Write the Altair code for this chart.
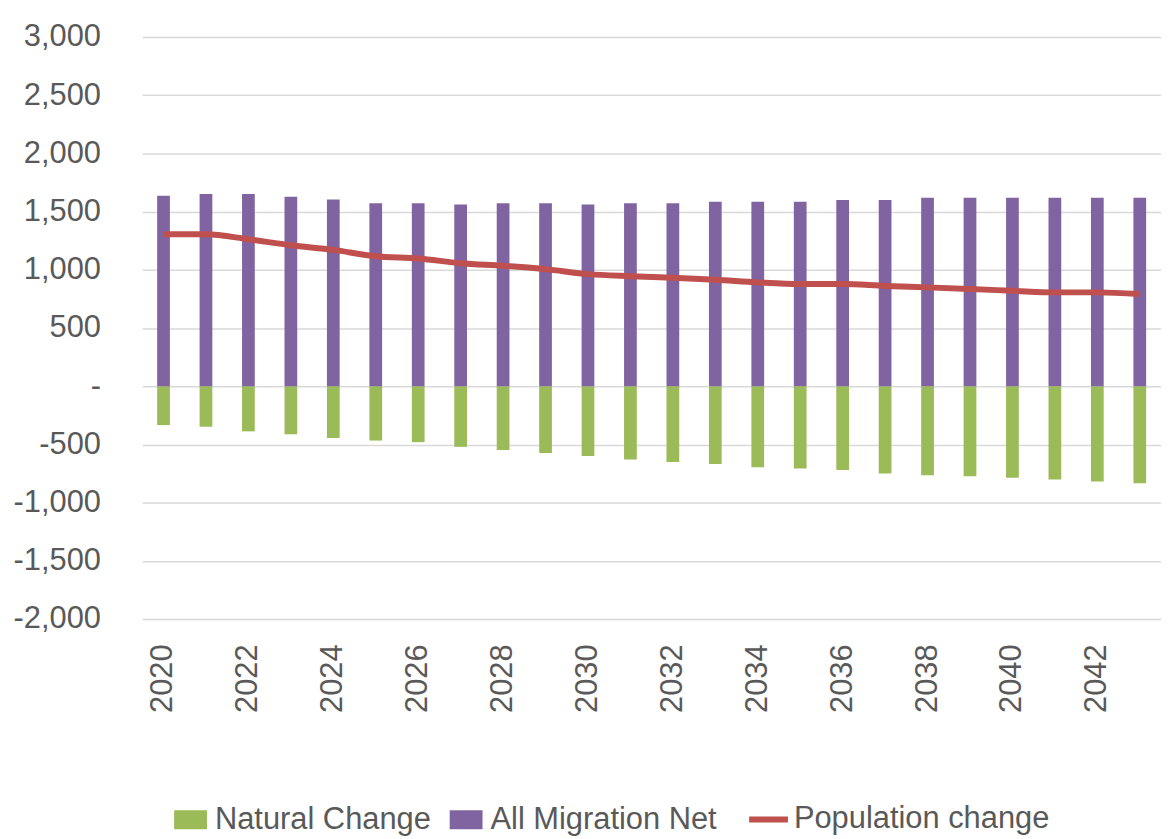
import altair as alt
import pandas as pd

years = list(range(2020, 2044))
natural_change = [-334, -348, -388, -413, -445, -467, -481, -521, -549, -575, -600, -630,
                  -651, -668, -697, -708, -719, -751, -765, -773, -787, -802, -819, -833]
migration_net = [1637, 1651, 1651, 1627, 1603, 1571, 1571, 1560, 1571, 1571, 1560, 1571,
                 1571, 1585, 1585, 1585, 1600, 1600, 1620, 1620, 1620, 1620, 1620, 1620]
population_change = [1305, 1305, 1262, 1211, 1171, 1117, 1097, 1057, 1034, 1006, 963, 945,
                     932, 915, 892, 878, 878, 861, 849, 835, 820, 806, 806, 792]
series_names = ["Natural Change", "All Migration Net", "Population change"]
bar_colors = ["#9BBB59", "#8064A2"]
line_color = "#C0504D"
y_ticks = list(range(-2000, 3001, 500))
x_ticks = years[::2]

bars_df = pd.DataFrame({
    "year": years * 2,
    "series": [series_names[0]] * len(years) + [series_names[1]] * len(years),
    "value": natural_change + migration_net,
})
line_df = pd.DataFrame({
    "year": years,
    "series": [series_names[2]] * len(years),
    "value": population_change,
})

FONT = "Liberation Sans"
FS = 31
LABEL_COLOR = "#595959"

x_enc = alt.X(
    "year:O",
    scale=alt.Scale(paddingInner=0.7, paddingOuter=0.35),
    axis=alt.Axis(
        title=None, values=x_ticks, labelAngle=-90, labelPadding=25,
        labelFontSize=FS, labelFont=FONT, labelColor=LABEL_COLOR,
        domain=False, ticks=False, grid=False,
    ),
)
y_scale = alt.Scale(domain=[-2000, 3000], nice=False, zero=False)
y_axis = alt.Axis(
    title=None, values=y_ticks, domain=False, ticks=False,
    labelFontSize=FS, labelFont=FONT, labelColor=LABEL_COLOR, labelPadding=42,
    labelExpr="datum.value == 0 ? '-' : (datum.value < 0 ? '-' + format(-datum.value, ',') : format(datum.value, ','))",
    gridColor="#D9D9D9", gridWidth=1.5,
)

bars = alt.Chart(bars_df).mark_bar().encode(
    x=x_enc,
    y=alt.Y("value:Q", scale=y_scale, axis=y_axis, stack="zero"),
    color=alt.Color(
        "series:N",
        scale=alt.Scale(domain=series_names[:2], range=bar_colors),
        legend=alt.Legend(
            title=None, orient="none", direction="horizontal",
            legendX=32, legendY=770, padding=0,
            symbolType="M-1,-0.576H1V0.576H-1Z", symbolSize=1089,
            symbolStrokeWidth=0, labelOffset=8, columnPadding=18,
        ),
    ),
)

line = alt.Chart(line_df).mark_line(strokeWidth=6, interpolate="monotone").encode(
    x=x_enc,
    y=alt.Y("value:Q", scale=y_scale),
    stroke=alt.Stroke(
        "series:N",
        scale=alt.Scale(domain=[series_names[2]], range=[line_color]),
        legend=alt.Legend(
            title=None, orient="none", direction="horizontal",
            legendX=607, legendY=764, padding=0,
            symbolType="stroke", symbolSize=1521, symbolStrokeWidth=6,
            labelOffset=3,
        ),
    ),
)

chart = alt.layer(bars, line).properties(
    width=1024, height=585,
    autosize=alt.AutoSizeParams(type="none"),
    padding={"left": 135, "top": 27, "right": 0, "bottom": 219},
).configure_view(stroke=None).configure_legend(
    labelFontSize=FS, labelFont=FONT, labelColor=LABEL_COLOR, labelLimit=500,
)

chart.save("out.html", embed_options={"renderer": "svg", "actions": False})
